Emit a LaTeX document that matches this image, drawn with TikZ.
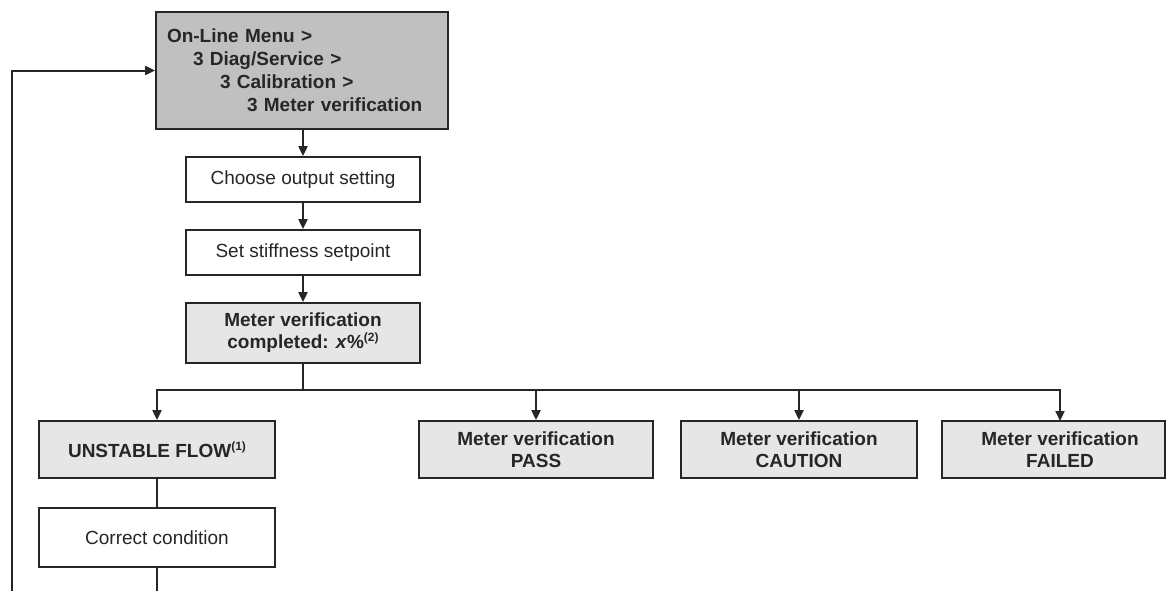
\documentclass[tikz,border=0pt]{standalone}
\usepackage{fontspec}
\setmainfont{Liberation Sans}
\usetikzlibrary{arrows.meta}
\definecolor{topgrey}{HTML}{C0C0C0}
\definecolor{litegrey}{HTML}{E6E6E6}
\definecolor{ink}{HTML}{262626}
\newcommand{\supmark}[1]{\raisebox{7pt}{\fontsize{12}{12}\selectfont #1}}
\begin{document}
\begin{tikzpicture}[x=1pt,y=-1pt,
  box/.style={draw=ink, line width=1.8pt, rectangle, inner sep=0pt,
    font=\fontsize{19}{22}\selectfont, align=center, text=ink,
    minimum width=234pt},
  plainbox/.style={box, fill=white},
  greybox/.style={box, fill=litegrey, font=\fontsize{19}{22}\selectfont\bfseries},
  conn/.style={draw=ink, line width=2pt},
  arr/.style={conn, -{Triangle[length=10pt,width=9pt]}}
]
\useasboundingbox (0,0) rectangle (1166,590);

% top menu box
\node[box, fill=topgrey, minimum width=292pt, minimum height=117pt,
      text width=270pt, inner xsep=11pt, align=left,
      font=\fontsize{19}{23}\selectfont\bfseries] (menu) at (302,70.5)
  {On-Line Menu >\\
   \hspace*{26pt}3 Diag/Service >\\
   \hspace*{53pt}3 Calibration >\\
   \hspace*{80pt}3 Meter verification};

\node[plainbox, minimum height=45pt] (choose) at (303,179.5) {Choose output setting};
\node[plainbox, minimum height=45pt] (stiff) at (303,252.5) {Set stiffness setpoint};
\node[greybox, minimum height=60pt] (done) at (303,333)
  {Meter verification\\completed: \textit{x}\%\supmark{(2)}};

\node[greybox, minimum width=236pt, minimum height=57pt] (unstable) at (157,449.5)
  {UNSTABLE FLOW\supmark{(1)}};
\node[plainbox, minimum width=236pt, minimum height=59pt] (correct) at (157,537.5)
  {Correct condition};

\node[greybox, minimum height=57pt] (pass) at (536,449.5)
  {Meter verification\\PASS};
\node[greybox, minimum width=236pt, minimum height=57pt] (caution) at (799,449.5)
  {Meter verification\\CAUTION};
\node[greybox, minimum width=223pt, minimum height=57pt] (failedbox) at (1053.5,449.5) {};
\node[font=\fontsize{19}{22}\selectfont\bfseries, text=ink, align=center, inner sep=0pt]
  (failed) at (1060,449.5) {Meter verification\\FAILED};

% branch point and free ends
\coordinate (split) at (303,390);
\coordinate (loopbot) at (12,592);
\coordinate (loopcorner) at (12,70.5);
\coordinate (corrbot) at (157,592);

\draw[arr] (menu.south -| choose.north) -- (choose.north);
\draw[arr] (choose) -- (stiff);
\draw[arr] (stiff) -- (done);
\draw[conn] (done.south) -- (split);
\draw[arr] (split) -- (1060,390) -- (1060,421);
\draw[arr] (split) -- (157,390) -- (unstable.north);
\draw[arr] (536,390) -- (pass.north);
\draw[arr] (799,390) -- (caution.north);
\draw[conn] (unstable) -- (correct);
\draw[conn] (correct.south) -- (corrbot);
\draw[arr] (loopbot) -- (loopcorner) -- (menu.west);
\end{tikzpicture}
\end{document}
